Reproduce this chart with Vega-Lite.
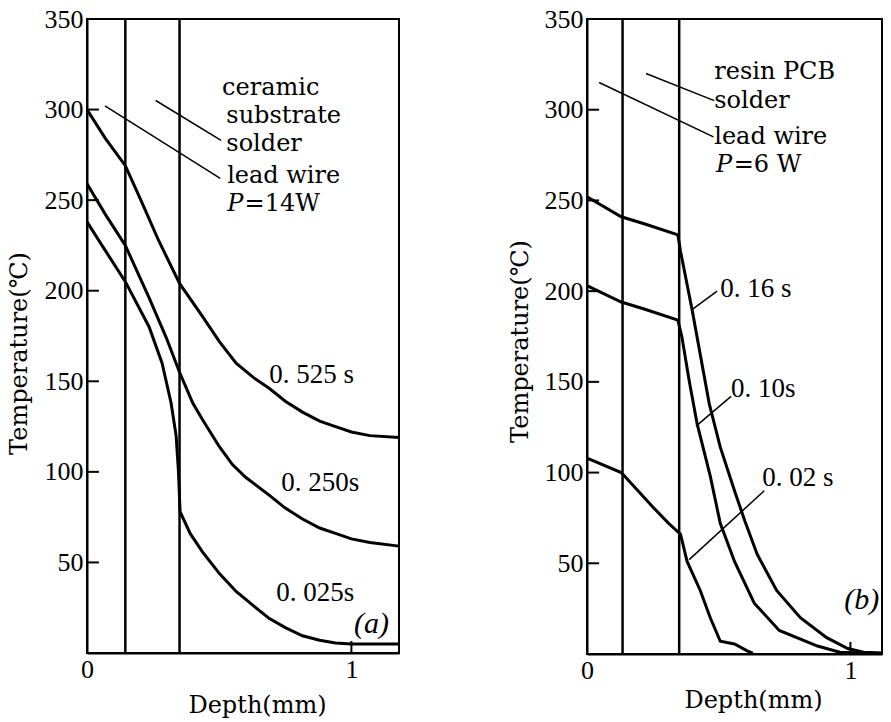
{
  "$schema": "https://vega.github.io/schema/vega-lite/v6.json",
  "padding": {"left": 6, "top": 5, "right": 3, "bottom": 0},
  "background": "white",
  "config": {
    "view": {"stroke": "black", "strokeWidth": 2},
    "concat": {"spacing": 101},
    "axis": {
      "grid": false, "ticks": false,
      "domainColor": "black", "domainWidth": 2,
      "labelFont": "Liberation Serif", "labelFontSize": 26, "labelColor": "black", "labelFlush": false,
      "titleFont": "DejaVu Serif", "titleFontSize": 24, "titleFontWeight": "normal", "titleColor": "black"
    }
  },
  "datasets": {
    "curvesA": [
      {"s": "0.525", "x": 0, "y": 300}, {"s": "0.525", "x": 0.07, "y": 284}, {"s": "0.525", "x": 0.145, "y": 269}, {"s": "0.525", "x": 0.21, "y": 248}, {"s": "0.525", "x": 0.27, "y": 228}, {"s": "0.525", "x": 0.35, "y": 204}, {"s": "0.525", "x": 0.436, "y": 186}, {"s": "0.525", "x": 0.5, "y": 172}, {"s": "0.525", "x": 0.564, "y": 160}, {"s": "0.525", "x": 0.63, "y": 152}, {"s": "0.525", "x": 0.69, "y": 146}, {"s": "0.525", "x": 0.75, "y": 139}, {"s": "0.525", "x": 0.815, "y": 133}, {"s": "0.525", "x": 0.88, "y": 128}, {"s": "0.525", "x": 0.94, "y": 125}, {"s": "0.525", "x": 1.0, "y": 122}, {"s": "0.525", "x": 1.07, "y": 120}, {"s": "0.525", "x": 1.18, "y": 119},
      {"s": "0.250", "x": 0, "y": 259}, {"s": "0.250", "x": 0.07, "y": 242}, {"s": "0.250", "x": 0.145, "y": 225}, {"s": "0.250", "x": 0.235, "y": 196}, {"s": "0.250", "x": 0.3, "y": 174}, {"s": "0.250", "x": 0.35, "y": 155}, {"s": "0.250", "x": 0.4, "y": 138}, {"s": "0.250", "x": 0.436, "y": 129}, {"s": "0.250", "x": 0.5, "y": 114}, {"s": "0.250", "x": 0.55, "y": 104}, {"s": "0.250", "x": 0.6, "y": 97}, {"s": "0.250", "x": 0.69, "y": 87}, {"s": "0.250", "x": 0.75, "y": 80}, {"s": "0.250", "x": 0.815, "y": 74}, {"s": "0.250", "x": 0.88, "y": 69}, {"s": "0.250", "x": 0.94, "y": 66}, {"s": "0.250", "x": 1.0, "y": 63}, {"s": "0.250", "x": 1.07, "y": 61}, {"s": "0.250", "x": 1.18, "y": 59},
      {"s": "0.025", "x": 0, "y": 238}, {"s": "0.025", "x": 0.07, "y": 222}, {"s": "0.025", "x": 0.145, "y": 205}, {"s": "0.025", "x": 0.235, "y": 180}, {"s": "0.025", "x": 0.284, "y": 160}, {"s": "0.025", "x": 0.318, "y": 138}, {"s": "0.025", "x": 0.337, "y": 120}, {"s": "0.025", "x": 0.346, "y": 100}, {"s": "0.025", "x": 0.352, "y": 78}, {"s": "0.025", "x": 0.39, "y": 66}, {"s": "0.025", "x": 0.436, "y": 56}, {"s": "0.025", "x": 0.5, "y": 44}, {"s": "0.025", "x": 0.564, "y": 34}, {"s": "0.025", "x": 0.63, "y": 26}, {"s": "0.025", "x": 0.69, "y": 19}, {"s": "0.025", "x": 0.75, "y": 14}, {"s": "0.025", "x": 0.815, "y": 9.5}, {"s": "0.025", "x": 0.88, "y": 7}, {"s": "0.025", "x": 0.94, "y": 5.5}, {"s": "0.025", "x": 1.0, "y": 5}, {"s": "0.025", "x": 1.18, "y": 5}
    ],
    "bordersA": [{"x": 0.145}, {"x": 0.35}],
    "yticksA": [{"x": 0, "x2": 0.045, "y": 50}, {"x": 0, "x2": 0.045, "y": 100}, {"x": 0, "x2": 0.045, "y": 150}, {"x": 0, "x2": 0.045, "y": 200}, {"x": 0, "x2": 0.045, "y": 250}, {"x": 0, "x2": 0.045, "y": 300}],
    "xticksA": [{"x": 1, "y": 0, "y2": 6.6}],
    "leadersA": [
      {"id": "lead", "x": 0.068, "y": 302}, {"id": "lead", "x": 0.504, "y": 262},
      {"id": "solder", "x": 0.26, "y": 305}, {"id": "solder", "x": 0.507, "y": 283}
    ],
    "wordsA": [
      {"t": "ceramic", "x": 0.511, "y": 308},
      {"t": "substrate", "x": 0.527, "y": 292.5},
      {"t": "solder", "x": 0.527, "y": 277},
      {"t": "lead wire", "x": 0.53, "y": 259.5},
      {"t": "=14W", "x": 0.596, "y": 244}
    ],
    "italicA": [{"t": "P", "x": 0.53, "y": 244}],
    "timesA": [
      {"t": "0. 525 s", "x": 0.689, "y": 149},
      {"t": "0. 250s", "x": 0.735, "y": 89.5},
      {"t": "0. 025s", "x": 0.716, "y": 28.7}
    ],
    "tagA": [{"t": "(a)", "x": 1.01, "y": 11}],
    "curvesB": [
      {"s": "0.16", "x": 0, "y": 252}, {"s": "0.16", "x": 0.13, "y": 241}, {"s": "0.16", "x": 0.22, "y": 237}, {"s": "0.16", "x": 0.345, "y": 231}, {"s": "0.16", "x": 0.355, "y": 222}, {"s": "0.16", "x": 0.4, "y": 189}, {"s": "0.16", "x": 0.464, "y": 138}, {"s": "0.16", "x": 0.506, "y": 114}, {"s": "0.16", "x": 0.56, "y": 90}, {"s": "0.16", "x": 0.6, "y": 73}, {"s": "0.16", "x": 0.646, "y": 55}, {"s": "0.16", "x": 0.72, "y": 35}, {"s": "0.16", "x": 0.81, "y": 20}, {"s": "0.16", "x": 0.91, "y": 9}, {"s": "0.16", "x": 0.99, "y": 3}, {"s": "0.16", "x": 1.05, "y": 1}, {"s": "0.16", "x": 1.12, "y": 0.5},
      {"s": "0.10", "x": 0, "y": 203}, {"s": "0.10", "x": 0.13, "y": 194}, {"s": "0.10", "x": 0.22, "y": 190}, {"s": "0.10", "x": 0.345, "y": 184}, {"s": "0.10", "x": 0.36, "y": 175}, {"s": "0.10", "x": 0.39, "y": 149}, {"s": "0.10", "x": 0.418, "y": 127}, {"s": "0.10", "x": 0.468, "y": 98}, {"s": "0.10", "x": 0.506, "y": 72}, {"s": "0.10", "x": 0.56, "y": 51}, {"s": "0.10", "x": 0.635, "y": 28}, {"s": "0.10", "x": 0.73, "y": 13}, {"s": "0.10", "x": 0.875, "y": 4.4}, {"s": "0.10", "x": 0.96, "y": 1}, {"s": "0.10", "x": 1.05, "y": 0.5}, {"s": "0.10", "x": 1.12, "y": 0.3},
      {"s": "0.02", "x": 0, "y": 108}, {"s": "0.02", "x": 0.13, "y": 100}, {"s": "0.02", "x": 0.25, "y": 81}, {"s": "0.02", "x": 0.31, "y": 72}, {"s": "0.02", "x": 0.355, "y": 66}, {"s": "0.02", "x": 0.38, "y": 51}, {"s": "0.02", "x": 0.43, "y": 35}, {"s": "0.02", "x": 0.468, "y": 20}, {"s": "0.02", "x": 0.506, "y": 7}, {"s": "0.02", "x": 0.56, "y": 5.5}, {"s": "0.02", "x": 0.61, "y": 1.6}, {"s": "0.02", "x": 0.63, "y": 0.5}
    ],
    "bordersB": [{"x": 0.135}, {"x": 0.35}],
    "yticksB": [{"x": 0, "x2": 0.046, "y": 50}, {"x": 0, "x2": 0.046, "y": 100}, {"x": 0, "x2": 0.046, "y": 150}, {"x": 0, "x2": 0.046, "y": 200}, {"x": 0, "x2": 0.046, "y": 250}, {"x": 0, "x2": 0.046, "y": 300}],
    "xticksB": [{"x": 1, "y": 0, "y2": 6.6}],
    "leadersB": [
      {"id": "solder", "x": 0.224, "y": 320}, {"id": "solder", "x": 0.483, "y": 305},
      {"id": "lead", "x": 0.046, "y": 315}, {"id": "lead", "x": 0.48, "y": 285},
      {"id": "t16", "x": 0.4, "y": 190}, {"id": "t16", "x": 0.494, "y": 200},
      {"id": "t10", "x": 0.414, "y": 125.6}, {"id": "t10", "x": 0.547, "y": 142},
      {"id": "t02", "x": 0.388, "y": 52}, {"id": "t02", "x": 0.673, "y": 90}
    ],
    "wordsB": [
      {"t": "resin PCB", "x": 0.483, "y": 317},
      {"t": "solder", "x": 0.483, "y": 301},
      {"t": "lead wire", "x": 0.483, "y": 281},
      {"t": "=6 W", "x": 0.557, "y": 265.5}
    ],
    "italicB": [{"t": "P", "x": 0.49, "y": 265.5}],
    "timesB": [
      {"t": "0. 16 s", "x": 0.506, "y": 197},
      {"t": "0. 10s", "x": 0.547, "y": 141.6},
      {"t": "0. 02 s", "x": 0.665, "y": 92.5}
    ],
    "tagB": [{"t": "(b)", "x": 0.977, "y": 25}]
  },
  "hconcat": [
    {
      "width": 312, "height": 634,
      "layer": [
        {
          "data": {"name": "bordersA"},
          "mark": {"type": "rule", "color": "black", "strokeWidth": 2.5},
          "encoding": {
            "x": {"field": "x", "type": "quantitative", "scale": {"domain": [0, 1.18], "nice": false},
                  "axis": {"values": [0, 1], "format": "d", "title": "Depth(mm)", "titleX": 170, "titleY": 40, "labelPadding": 3}}
          }
        },
        {
          "data": {"name": "curvesA"},
          "mark": {"type": "line", "color": "black", "strokeWidth": 3},
          "encoding": {
            "x": {"field": "x", "type": "quantitative", "scale": {"domain": [0, 1.18], "nice": false},
                  "axis": {"values": [0, 1], "format": "d", "title": "Depth(mm)", "titleX": 170, "titleY": 40, "labelPadding": 3}},
            "y": {"field": "y", "type": "quantitative", "scale": {"domain": [0, 350], "nice": false},
                  "axis": {"values": [50, 100, 150, 200, 250, 300, 350], "title": "Temperature(℃)", "titleX": -56, "titleY": 334, "labelPadding": 4}},
            "detail": {"field": "s"}
          }
        },
        {
          "data": {"name": "yticksA"},
          "mark": {"type": "rule", "color": "black", "strokeWidth": 2},
          "encoding": {
            "x": {"field": "x", "type": "quantitative", "scale": {"domain": [0, 1.18], "nice": false}},
            "x2": {"field": "x2"},
            "y": {"field": "y", "type": "quantitative", "scale": {"domain": [0, 350], "nice": false}}
          }
        },
        {
          "data": {"name": "xticksA"},
          "mark": {"type": "rule", "color": "black", "strokeWidth": 2},
          "encoding": {
            "x": {"field": "x", "type": "quantitative", "scale": {"domain": [0, 1.18], "nice": false}},
            "y": {"field": "y", "type": "quantitative", "scale": {"domain": [0, 350], "nice": false}},
            "y2": {"field": "y2"}
          }
        },
        {
          "data": {"name": "leadersA"},
          "mark": {"type": "line", "color": "black", "strokeWidth": 1.5},
          "encoding": {
            "x": {"field": "x", "type": "quantitative", "scale": {"domain": [0, 1.18], "nice": false}},
            "y": {"field": "y", "type": "quantitative", "scale": {"domain": [0, 350], "nice": false}},
            "detail": {"field": "id"}
          }
        },
        {
          "data": {"name": "wordsA"},
          "mark": {"type": "text", "font": "DejaVu Serif", "fontSize": 24, "align": "left", "baseline": "alphabetic", "color": "black"},
          "encoding": {
            "x": {"field": "x", "type": "quantitative", "scale": {"domain": [0, 1.18], "nice": false}},
            "y": {"field": "y", "type": "quantitative", "scale": {"domain": [0, 350], "nice": false}},
            "text": {"field": "t"}
          }
        },
        {
          "data": {"name": "italicA"},
          "mark": {"type": "text", "font": "DejaVu Serif", "fontStyle": "italic", "fontSize": 24, "align": "left", "baseline": "alphabetic", "color": "black"},
          "encoding": {
            "x": {"field": "x", "type": "quantitative", "scale": {"domain": [0, 1.18], "nice": false}},
            "y": {"field": "y", "type": "quantitative", "scale": {"domain": [0, 350], "nice": false}},
            "text": {"field": "t"}
          }
        },
        {
          "data": {"name": "timesA"},
          "mark": {"type": "text", "font": "Liberation Serif", "fontSize": 27, "align": "left", "baseline": "alphabetic", "color": "black"},
          "encoding": {
            "x": {"field": "x", "type": "quantitative", "scale": {"domain": [0, 1.18], "nice": false}},
            "y": {"field": "y", "type": "quantitative", "scale": {"domain": [0, 350], "nice": false}},
            "text": {"field": "t"}
          }
        },
        {
          "data": {"name": "tagA"},
          "mark": {"type": "text", "font": "Liberation Serif", "fontStyle": "italic", "fontSize": 30, "align": "left", "baseline": "alphabetic", "color": "black"},
          "encoding": {
            "x": {"field": "x", "type": "quantitative", "scale": {"domain": [0, 1.18], "nice": false}},
            "y": {"field": "y", "type": "quantitative", "scale": {"domain": [0, 350], "nice": false}},
            "text": {"field": "t"}
          }
        }
      ]
    },
    {
      "width": 295, "height": 635,
      "layer": [
        {
          "data": {"name": "bordersB"},
          "mark": {"type": "rule", "color": "black", "strokeWidth": 2.5},
          "encoding": {
            "x": {"field": "x", "type": "quantitative", "scale": {"domain": [0, 1.12], "nice": false},
                  "axis": {"values": [0, 1], "format": "d", "title": "Depth(mm)", "titleX": 166, "titleY": 34, "labelPadding": 3}}
          }
        },
        {
          "data": {"name": "curvesB"},
          "mark": {"type": "line", "color": "black", "strokeWidth": 3},
          "encoding": {
            "x": {"field": "x", "type": "quantitative", "scale": {"domain": [0, 1.12], "nice": false},
                  "axis": {"values": [0, 1], "format": "d", "title": "Depth(mm)", "titleX": 166, "titleY": 34, "labelPadding": 3}},
            "y": {"field": "y", "type": "quantitative", "scale": {"domain": [0, 350], "nice": false},
                  "axis": {"values": [50, 100, 150, 200, 250, 300, 350], "title": "Temperature(℃)", "titleX": -55, "titleY": 322, "labelPadding": 4}},
            "detail": {"field": "s"}
          }
        },
        {
          "data": {"name": "yticksB"},
          "mark": {"type": "rule", "color": "black", "strokeWidth": 2},
          "encoding": {
            "x": {"field": "x", "type": "quantitative", "scale": {"domain": [0, 1.12], "nice": false}},
            "x2": {"field": "x2"},
            "y": {"field": "y", "type": "quantitative", "scale": {"domain": [0, 350], "nice": false}}
          }
        },
        {
          "data": {"name": "xticksB"},
          "mark": {"type": "rule", "color": "black", "strokeWidth": 2},
          "encoding": {
            "x": {"field": "x", "type": "quantitative", "scale": {"domain": [0, 1.12], "nice": false}},
            "y": {"field": "y", "type": "quantitative", "scale": {"domain": [0, 350], "nice": false}},
            "y2": {"field": "y2"}
          }
        },
        {
          "data": {"name": "leadersB"},
          "mark": {"type": "line", "color": "black", "strokeWidth": 1.5},
          "encoding": {
            "x": {"field": "x", "type": "quantitative", "scale": {"domain": [0, 1.12], "nice": false}},
            "y": {"field": "y", "type": "quantitative", "scale": {"domain": [0, 350], "nice": false}},
            "detail": {"field": "id"}
          }
        },
        {
          "data": {"name": "wordsB"},
          "mark": {"type": "text", "font": "DejaVu Serif", "fontSize": 24, "align": "left", "baseline": "alphabetic", "color": "black"},
          "encoding": {
            "x": {"field": "x", "type": "quantitative", "scale": {"domain": [0, 1.12], "nice": false}},
            "y": {"field": "y", "type": "quantitative", "scale": {"domain": [0, 350], "nice": false}},
            "text": {"field": "t"}
          }
        },
        {
          "data": {"name": "italicB"},
          "mark": {"type": "text", "font": "DejaVu Serif", "fontStyle": "italic", "fontSize": 24, "align": "left", "baseline": "alphabetic", "color": "black"},
          "encoding": {
            "x": {"field": "x", "type": "quantitative", "scale": {"domain": [0, 1.12], "nice": false}},
            "y": {"field": "y", "type": "quantitative", "scale": {"domain": [0, 350], "nice": false}},
            "text": {"field": "t"}
          }
        },
        {
          "data": {"name": "timesB"},
          "mark": {"type": "text", "font": "Liberation Serif", "fontSize": 27, "align": "left", "baseline": "alphabetic", "color": "black"},
          "encoding": {
            "x": {"field": "x", "type": "quantitative", "scale": {"domain": [0, 1.12], "nice": false}},
            "y": {"field": "y", "type": "quantitative", "scale": {"domain": [0, 350], "nice": false}},
            "text": {"field": "t"}
          }
        },
        {
          "data": {"name": "tagB"},
          "mark": {"type": "text", "font": "Liberation Serif", "fontStyle": "italic", "fontSize": 30, "align": "left", "baseline": "alphabetic", "color": "black"},
          "encoding": {
            "x": {"field": "x", "type": "quantitative", "scale": {"domain": [0, 1.12], "nice": false}},
            "y": {"field": "y", "type": "quantitative", "scale": {"domain": [0, 350], "nice": false}},
            "text": {"field": "t"}
          }
        }
      ]
    }
  ]
}
